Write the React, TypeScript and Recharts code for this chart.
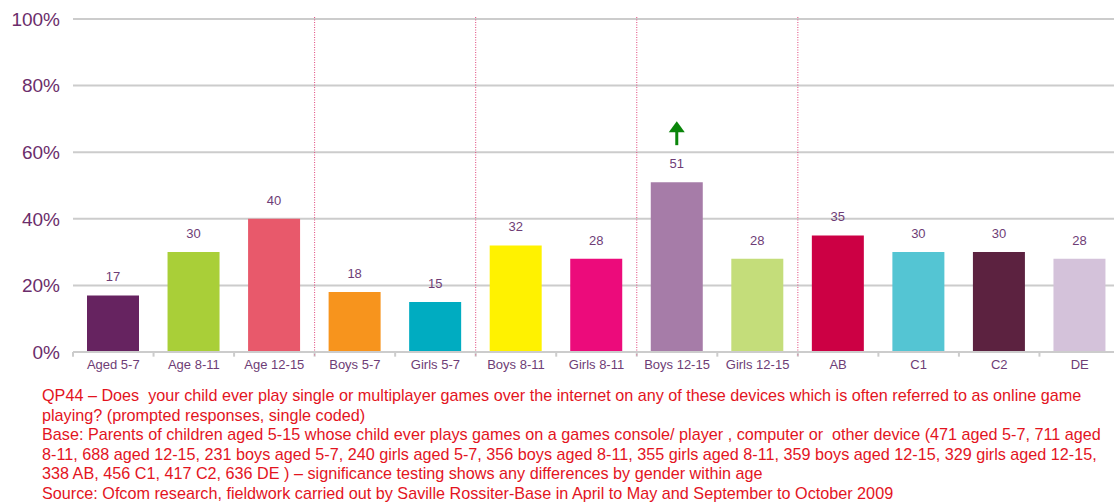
import React from 'react';
import { BarChart, Bar, XAxis, YAxis, CartesianGrid, ReferenceLine, LabelList, Cell } from 'recharts';

const categories = [
  'Aged 5-7', 'Age 8-11', 'Age 12-15', 'Boys 5-7', 'Girls 5-7', 'Boys 8-11', 'Girls 8-11',
  'Boys 12-15', 'Girls 12-15', 'AB', 'C1', 'C2', 'DE',
];
const values = [17, 30, 40, 18, 15, 32, 28, 51, 28, 35, 30, 30, 28];
const barColors = [
  '#662360', '#a9cf38', '#e8596b', '#f7941d', '#00acc1', '#fff200', '#ec0b7b',
  '#a67ca8', '#c4dd7a', '#cc0044', '#54c5d3', '#5c2240', '#d4c2da',
];
// categories flagged as significantly higher (green arrow)
const sigUp = ['Boys 12-15'];
// dotted separators sit between groups, in category units
const dividers = [3, 5, 7, 9];
const yTicks = [0, 20, 40, 60, 80, 100];

const footnote = [
  'QP44 \u2013 Does  your child ever play single or multiplayer games over the internet on any of these devices which is often referred to as online game',
  'playing? (prompted responses, single coded)',
  'Base: Parents of children aged 5-15 whose child ever plays games on a games console/ player , computer or  other device (471 aged 5-7, 711 aged',
  '8-11, 688 aged 12-15, 231 boys aged 5-7, 240 girls aged 5-7, 356 boys aged 8-11, 355 girls aged 8-11, 359 boys aged 12-15, 329 girls aged 12-15,',
  '338 AB, 456 C1, 417 C2, 636 DE ) \u2013 significance testing shows any differences by gender within age',
  'Source: Ofcom research, fieldwork carried out by Saville Rossiter-Base in April to May and September to October 2009',
];

const data = categories.map((name, i) => ({
  name,
  value: values[i],
  sig: sigUp.includes(name),
}));

const FONT = '"Liberation Sans", Arial, sans-serif';
const PURPLE = '#6b2d6b';

const ValueLabel = (props: any) => {
  const { x, y, width, value } = props;
  return (
    <text x={x + width / 2} y={y - 14} textAnchor="middle" fontSize={13} fill="#6e3d76" fontFamily={FONT}>
      {value}
    </text>
  );
};

const ArrowLabel = (props: any) => {
  const { x, y, width, value } = props;
  if (!value) return null;
  const cx = x + width / 2;
  const tip = y - 61;
  return (
    <g>
      <path d={`M${cx - 8},${tip + 11} L${cx},${tip} L${cx + 8},${tip + 11} Z`} fill="#0a850a" />
      <rect x={cx - 1.5} y={tip + 10} width={3} height={14} fill="#0a850a" />
    </g>
  );
};

const XTick = (props: any) => {
  const { x, y, payload } = props;
  return (
    <text x={x} y={y + 9} textAnchor="middle" fontSize={13} fill="#6e3d76" fontFamily={FONT}>
      {payload.value}
    </text>
  );
};

export default function App() {
  return (
    <div style={{ position: 'relative', width: 1114, height: 503, overflow: 'hidden', background: '#fff' }}>
      <style>{`body{margin:0;overflow:hidden}`}</style>
      <div style={{ position: 'absolute', left: 0, top: 0 }}>
        <BarChart
          width={1120}
          height={385}
          data={data}
          margin={{ top: 19, right: 0, left: 0, bottom: 0 }}
        >
          <CartesianGrid vertical={false} stroke="#cccccc" strokeWidth={2} />
          <XAxis
            dataKey="name"
            height={33}
            interval={0}
            tickLine={false}
            axisLine={{ stroke: '#cccccc', strokeWidth: 2 }}
            tick={<XTick />}
          />
          <XAxis
            xAxisId="pos"
            type="number"
            dataKey="none"
            domain={[0, categories.length]}
            allowDataOverflow
            hide
          />
          <YAxis
            width={73}
            domain={[0, 100]}
            ticks={yTicks}
            tickFormatter={(v) => `${v}%`}
            axisLine={false}
            tickLine={false}
            tickSize={0}
            tickMargin={13}
            tick={{ fontSize: 19, fill: PURPLE, fontFamily: FONT }}
          />
          {categories.map((_, i) => (
            <ReferenceLine
              key={`tick-${i}`}
              xAxisId="pos"
              ifOverflow="visible"
              segment={[{ x: i, y: 0 }, { x: i, y: -1.4 }]}
              stroke="#cccccc"
              strokeWidth={2}
            />
          ))}
          {dividers.map((d) => (
            <ReferenceLine
              key={`div-${d}`}
              xAxisId="pos"
              ifOverflow="visible"
              segment={[{ x: d, y: 100.6 }, { x: d, y: -1 }]}
              stroke="#e0457b"
              strokeWidth={1}
              strokeDasharray="1 1.5"
            />
          ))}
          <Bar dataKey="value" barSize={52} isAnimationActive={false}>
            {data.map((entry, index) => (
              <Cell key={`cell-${index}`} fill={barColors[index]} />
            ))}
            <LabelList dataKey="value" content={<ValueLabel />} />
            <LabelList dataKey="sig" content={<ArrowLabel />} />
          </Bar>
        </BarChart>
      </div>
      <div
        style={{
          position: 'absolute',
          left: 42,
          top: 386,
          fontFamily: FONT,
          fontSize: 16.2,
          lineHeight: '19.6px',
          color: '#e3141e',
          whiteSpace: 'pre',
        }}
      >
        {footnote.map((line, i) => (
          <div key={i}>{line}</div>
        ))}
      </div>
    </div>
  );
}
